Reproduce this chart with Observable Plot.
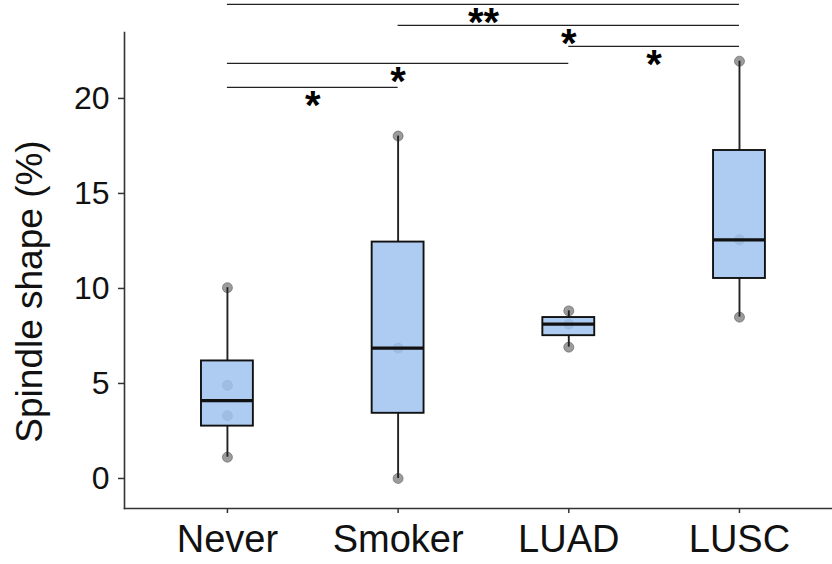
<!DOCTYPE html>
<html>
<head>
<meta charset="utf-8">
<script src="https://cdn.jsdelivr.net/npm/d3@7"></script>
<script src="https://cdn.jsdelivr.net/npm/@observablehq/plot@0.6"></script>
<style>
  html, body { margin: 0; padding: 0; background: #fff; }
  #chart svg { display: block; }
</style>
</head>
<body>
<div id="chart"></div>
<script>
// ---- data ----
const categories = ["Never", "Smoker", "LUAD", "LUSC"];
const neverValues = [1.12, 3.3, 4.9, 10.04];
const smokerValues = [0, 6.86, 18.02];
const luadValues = [6.91, 8.12, 8.82];
const luscValues = [8.49, 12.56, 21.96];
const yTicks = [0, 5, 10, 15, 20];

// significance comparisons
const compFrom = ["Never", "Smoker", "LUAD", "Never", "Never"];
const compTo = ["LUSC", "LUSC", "LUSC", "LUAD", "Smoker"];
const compLabel = ["**", "*", "*", "*", "*"];
const compY = [24.95, 23.84, 22.74, 21.84, 20.58];

const yTitle = "Spindle shape (%)";

// ---- derived tables ----
const groups = [neverValues, smokerValues, luadValues, luscValues];
const points = groups.flatMap((vals, gi) => vals.map(v => ({i: gi + 1, value: v})));
const stats = groups.map((vals, gi) => {
  const s = vals.slice().sort(d3.ascending);
  const q1 = d3.quantile(s, 0.25), med = d3.quantile(s, 0.5), q3 = d3.quantile(s, 0.75);
  const iqr = q3 - q1;
  const lo = d3.min(s.filter(v => v >= q1 - 1.5 * iqr));
  const hi = d3.max(s.filter(v => v <= q3 + 1.5 * iqr));
  return {i: gi + 1, q1, med, q3, lo, hi};
});
const comps = compFrom.map((f, k) => {
  const a = categories.indexOf(f) + 1, b = categories.indexOf(compTo[k]) + 1;
  return {x1: a, x2: b, xm: (a + b) / 2, y: compY[k], label: compLabel[k]};
});

const half = 0.152; // half box width in category units
const font = "Liberation Sans, Arial, Helvetica, sans-serif";

const chart = Plot.plot({
  width: 832,
  height: 564,
  marginLeft: 124,
  marginRight: 0,
  marginTop: 32,
  marginBottom: 56,
  style: {fontFamily: font, background: "#fff", color: "#000", overflow: "visible"},
  x: {type: "linear", domain: [0.397, 4.545]},
  y: {domain: [-1.58, 23.47]},
  marks: [
    // raw points (behind translucent boxes)
    Plot.dot(points, {x: "i", y: "value", r: 5, fill: "#5a5a5a", fillOpacity: 0.6, stroke: "#4a4a4a", strokeOpacity: 0.5, strokeWidth: 1}),
    // whiskers
    Plot.ruleX(stats, {x: "i", y1: "lo", y2: "q1", stroke: "#222", strokeWidth: 1.9}),
    Plot.ruleX(stats, {x: "i", y1: "q3", y2: "hi", stroke: "#222", strokeWidth: 1.9}),
    // boxes
    Plot.rect(stats, {x1: d => d.i - half, x2: d => d.i + half, y1: "q1", y2: "q3", fill: "rgb(160,195,240)", fillOpacity: 0.85, stroke: "#111", strokeWidth: 1.9}),
    // medians
    Plot.ruleY(stats, {x1: d => d.i - half, x2: d => d.i + half, y: "med", stroke: "#111", strokeWidth: 3.2}),
    // significance brackets
    Plot.ruleY(comps, {x1: "x1", x2: "x2", y: "y", stroke: "#222", strokeWidth: 1.3}),
    Plot.text(comps, {x: "xm", y: "y", text: "label", lineAnchor: "top", dy: 3, fontSize: 40, fontWeight: "bold", fill: "#000"}),
    // axes
    Plot.axisY({ticks: yTicks, tickSize: 6, tickPadding: 9, fontSize: 32, label: null, stroke: "#333", strokeWidth: 1.5, fill: "#111"}),
    Plot.axisX({ticks: [1, 2, 3, 4], tickFormat: d => categories[d - 1], tickSize: 5, tickPadding: 12, fontSize: 38, label: null, stroke: "#333", strokeWidth: 1.5, fill: "#111"}),
    Plot.frame({anchor: "left", stroke: "#333", strokeWidth: 1.6}),
    Plot.frame({anchor: "bottom", stroke: "#333", strokeWidth: 1.6}),
    // y title
    Plot.text([yTitle], {frameAnchor: "left", text: d => d, rotate: -90, textAnchor: "middle", lineAnchor: "middle", dx: -94, dy: 21, fontSize: 37, fill: "#111"})
  ]
});
document.getElementById("chart").append(chart);
</script>
</body>
</html>
